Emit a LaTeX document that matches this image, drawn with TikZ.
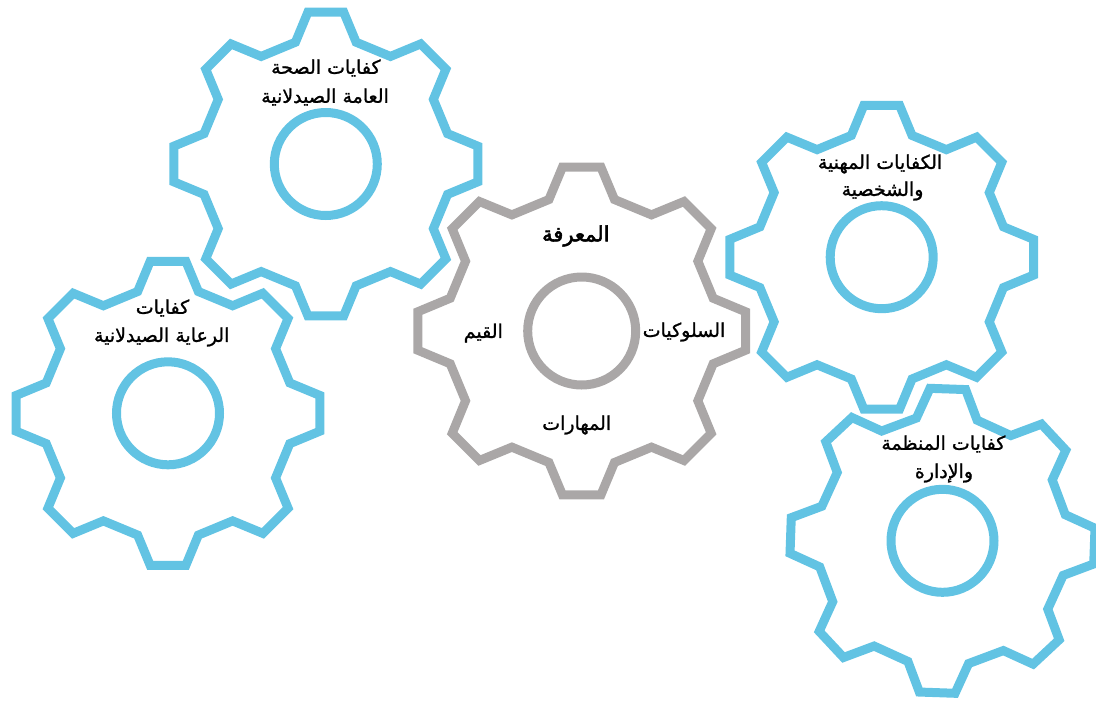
\documentclass[tikz,border=0pt]{standalone}
\usepackage{fontspec}
\usetikzlibrary{calc}
\TeXXeTstate=1
\newfontfamily\arabicfont[Script=Arabic,FakeBold=1.2]{DejaVu Sans}
\newfontfamily\arabicboldfont[Script=Arabic,FakeBold=2.6]{DejaVu Sans}
\definecolor{gearblue}{RGB}{98,195,227}
\definecolor{geargray}{RGB}{170,167,167}

% one toothed wheel: #1 centre, #2 tip radius, #3 root radius, #4 angle offset, #5 style
\newcommand{\drawgear}[5]{%
  \draw[#5] ($(#1)+(#4-14:#3)$)
    \foreach \k in {0,...,7}{
      -- ($(#1)+(\k*45+#4-6.7:#2)$) -- ($(#1)+(\k*45+#4+6.7:#2)$)
      -- ($(#1)+(\k*45+#4+14:#3)$) -- ($(#1)+(\k*45+#4+31:#3)$)
    } -- cycle;
}

\tikzset{
  bluegear/.style={draw=gearblue, line width=9pt, line join=miter},
  graygear/.style={draw=geargray, line width=9pt, line join=miter},
  lbl/.style={font=\arabicfont\fontsize{19}{22}\selectfont, text=black, inner sep=0pt},
  lblbig/.style={font=\arabicboldfont\fontsize{21}{24}\selectfont, text=black, inner sep=0pt},
}

\begin{document}
\begin{tikzpicture}[x=1pt, y=-1pt]
\useasboundingbox (0,0) rectangle (1096,705);

% wheel centres
\coordinate (g1) at (325.8,164);
\coordinate (g2) at (168,413.3);
\coordinate (g3) at (581.7,331);
\coordinate (g4) at (881.7,257.2);
\coordinate (g5) at (942.5,540.8);

% outlines
\drawgear{g1}{153}{125.5}{0}{bluegear}
\drawgear{g2}{153}{125.5}{0}{bluegear}
\drawgear{g3}{165}{135.5}{0}{graygear}
\drawgear{g4}{153}{125.5}{0}{bluegear}
\drawgear{g5}{153}{125.5}{2}{bluegear}

% hubs
\draw[bluegear] (g1) circle[radius=51.5];
\draw[bluegear] (g2) circle[radius=51.5];
\draw[graygear] (g3) circle[radius=54];
\draw[bluegear] (g4) circle[radius=51.5];
\draw[bluegear] (g5) circle[radius=51.5];

% labels
\node[lbl] (t1a) at (325.8,68) {\beginR كفايات الصحة\endR};
\node[lbl] (t1b) at (325,97) {\beginR العامة الصيدلانية\endR};

\node[lbl] (t2a) at (162.5,308) {\beginR كفايات\endR};
\node[lbl] (t2b) at (161.7,337) {\beginR الرعاية الصيدلانية\endR};

\node[lblbig] (t3a) at (575.8,236) {\beginR المعرفة\endR};
\node[lbl] (t3b) at (483.3,333) {\beginR القيم\endR};
\node[lbl] (t3c) at (684,332) {\beginR السلوكيات\endR};
\node[lbl] (t3d) at (576.7,425) {\beginR المهارات\endR};

\node[lbl] (t4a) at (880,164) {\beginR الكفايات المهنية\endR};
\node[lbl] (t4b) at (882.5,191) {\beginR والشخصية\endR};

\node[lbl] (t5a) at (943.3,444) {\beginR كفايات المنظمة\endR};
\node[lbl] (t5b) at (944,473) {\beginR والإدارة\endR};
\end{tikzpicture}
\end{document}
